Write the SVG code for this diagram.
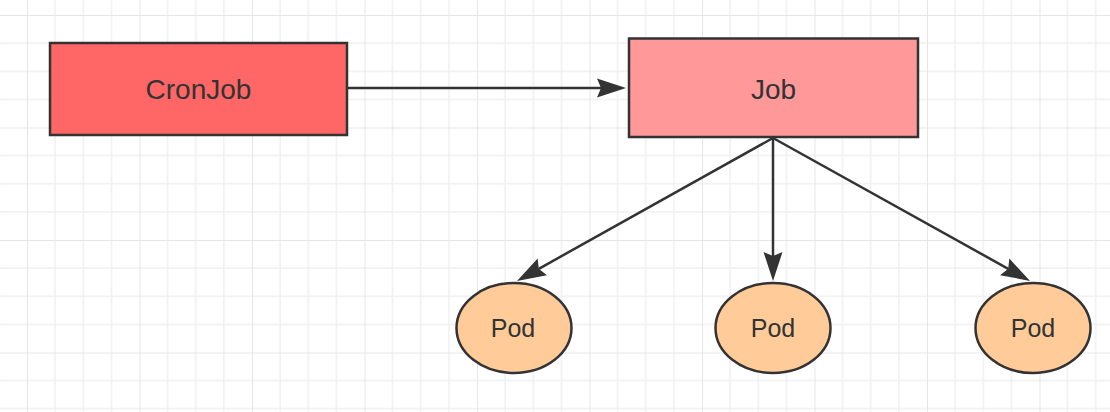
<svg xmlns="http://www.w3.org/2000/svg" width="1110" height="412" viewBox="0 0 1110 412">
  <defs>
    <pattern id="grid" patternUnits="userSpaceOnUse" x="27" y="15" width="112.5" height="112.5">
      <path d="M28.125 0V112.5M56.25 0V112.5M84.375 0V112.5M0 28.125H112.5M0 56.25H112.5M0 84.375H112.5" stroke="#f0f0f0" stroke-width="1.5" fill="none"/>
      <path d="M0 0V112.5M0 0H112.5" stroke="#e6e6e6" stroke-width="2" fill="none"/>
    </pattern>
    <marker id="arrow" markerUnits="userSpaceOnUse" viewBox="0 -9.5 29 19" markerWidth="29" markerHeight="19" refX="4" refY="0" orient="auto" overflow="visible">
      <path d="M0,-9.5 L29,0 L0,9.5 L4,0 Z" fill="#333333"/>
    </marker>
    <style>
      .box { stroke: #333333; stroke-width: 2.5; }
      .pod { fill: #FFCC99; stroke: #333333; stroke-width: 2.5; }
      .label { font-family: "Liberation Sans", "Noto Sans", sans-serif; fill: #333333; text-anchor: middle; dominant-baseline: central; }
      .edge { stroke: #333333; stroke-width: 2.5; fill: none; marker-end: url(#arrow); }
    </style>
  </defs>
  <rect width="1110" height="412" fill="#ffffff"/>
  <rect width="1110" height="412" fill="url(#grid)"/>

  <g id="connectors">
    <path class="edge" d="M348,88 L601,88"/>
    <path class="edge" d="M773,138 L538.8,268.8"/>
    <path class="edge" d="M773,138 L773,256"/>
    <path class="edge" d="M773,138 L1008.2,268.8"/>
  </g>

  <g id="cronjob">
    <rect class="box" x="50" y="43" width="297" height="92" fill="#FF6666"/>
    <text class="label" x="198.5" y="89" font-size="28">CronJob</text>
  </g>
  <g id="job">
    <rect class="box" x="629" y="38.5" width="289" height="98.5" fill="#FF9999"/>
    <text class="label" x="773.5" y="89" font-size="28">Job</text>
  </g>
  <g id="pod1">
    <ellipse class="pod" cx="514" cy="328" rx="57.5" ry="45"/>
    <text class="label" x="513" y="328" font-size="25">Pod</text>
  </g>
  <g id="pod2">
    <ellipse class="pod" cx="773" cy="328" rx="57.5" ry="45"/>
    <text class="label" x="773" y="328" font-size="25">Pod</text>
  </g>
  <g id="pod3">
    <ellipse class="pod" cx="1033" cy="328" rx="57.5" ry="45"/>
    <text class="label" x="1033" y="328" font-size="25">Pod</text>
  </g>
</svg>
